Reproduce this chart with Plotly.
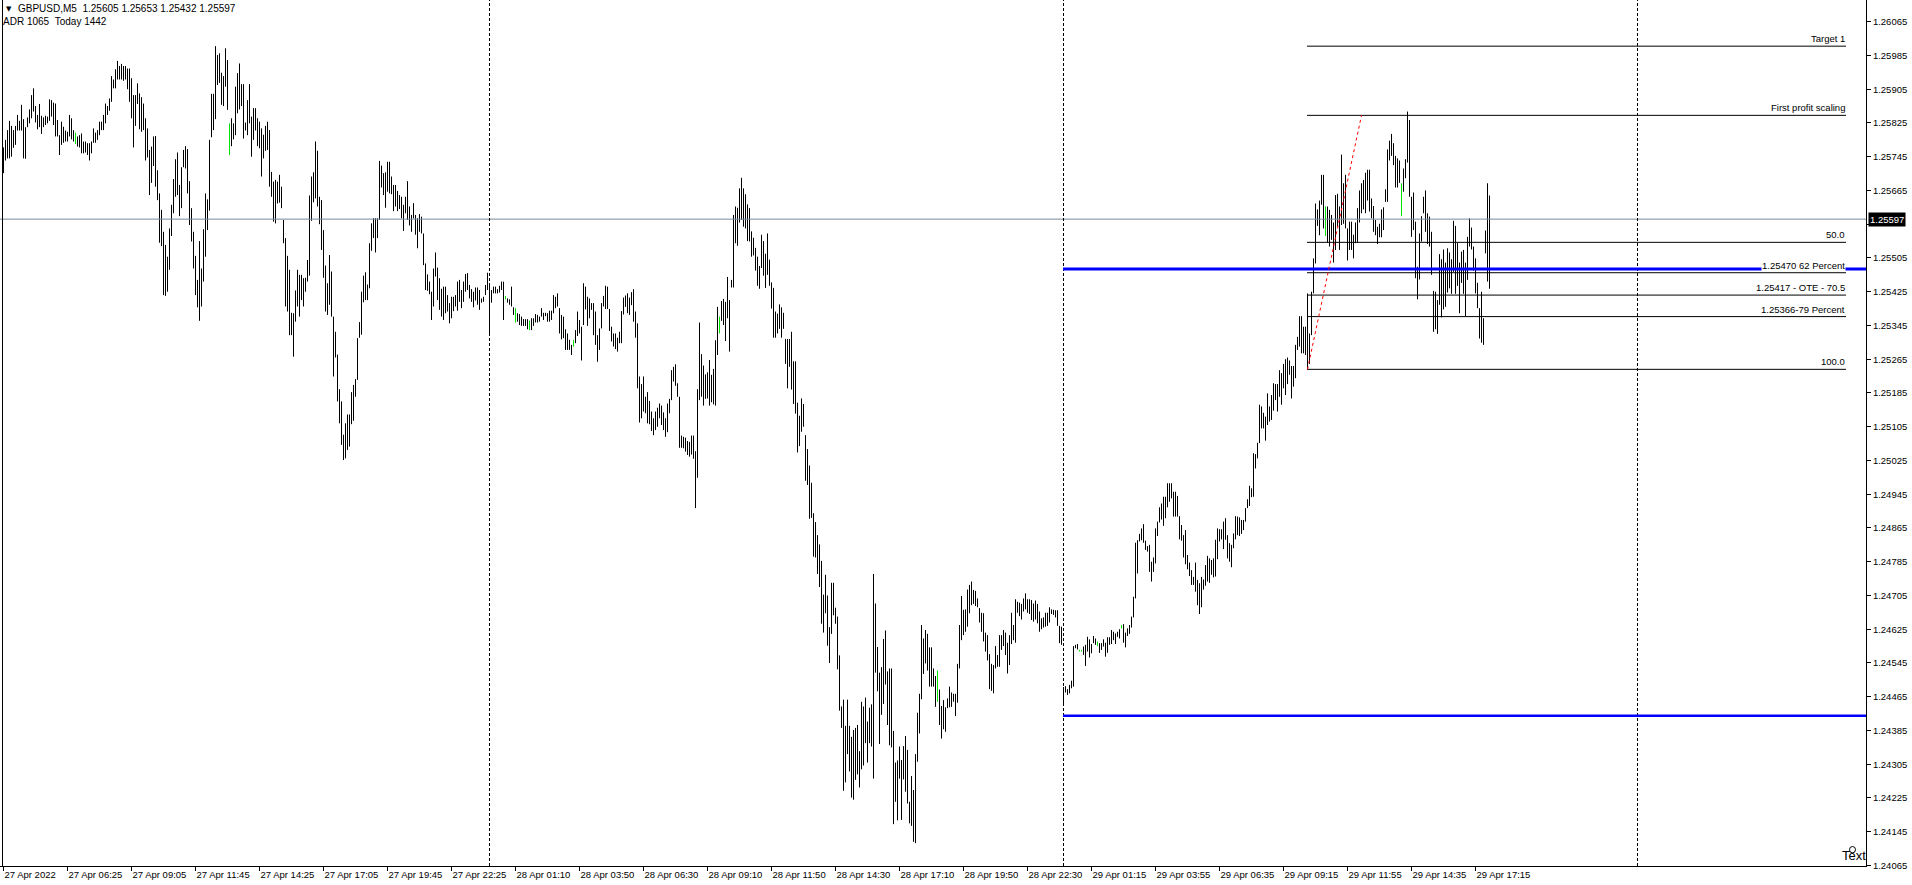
import plotly.graph_objects as go

# ---------------- data (GBPUSD M5) ----------------
bar_high = [
1.25767,1.25785,1.25808,1.25830,1.25818,1.25808,1.25818,1.25844,1.25830,1.25868,
1.25834,1.25815,1.25838,1.25857,1.25891,1.25907,1.25865,1.25844,1.25870,1.25842,
1.25838,1.25842,1.25840,1.25881,1.25879,1.25873,1.25871,1.25832,1.25796,1.25828,
1.25816,1.25807,1.25804,1.25844,1.25836,1.25808,1.25802,1.25793,1.25796,1.25800,
1.25781,1.25781,1.25777,1.25777,1.25781,1.25812,1.25802,1.25808,1.25828,1.25828,
1.25844,1.25871,1.25865,1.25883,1.25936,1.25928,1.25952,1.25972,1.25960,1.25965,
1.25960,1.25960,1.25954,1.25954,1.25931,1.25891,1.25891,1.25919,1.25895,1.25886,
1.25871,1.25836,1.25812,1.25761,1.25769,1.25793,1.25794,1.25713,1.25658,1.25619,
1.25567,1.25536,1.25508,1.25575,1.25631,1.25692,1.25739,1.25755,1.25678,1.25720,
1.25761,1.25770,1.25763,1.25687,1.25623,1.25567,1.25510,1.25453,1.25545,1.25480,
1.25573,1.25658,1.25644,1.25785,1.25894,1.25894,1.26007,1.25986,1.25990,1.25944,
1.25936,1.26002,1.25974,1.25824,1.25836,1.25824,1.25911,1.25943,1.25966,1.25917,
1.25917,1.25826,1.25879,1.25917,1.25840,1.25860,1.25860,1.25836,1.25828,1.25812,
1.25797,1.25818,1.25828,1.25808,1.25709,1.25686,1.25690,1.25686,1.25702,1.25674,
1.25595,1.25552,1.25510,1.25477,1.25375,1.25374,1.25428,1.25477,1.25465,1.25465,
1.25457,1.25458,1.25500,1.25653,1.25698,1.25708,1.25781,1.25759,1.25650,1.25642,
1.25571,1.25487,1.25445,1.25512,1.25473,1.25366,1.25330,1.25276,1.25194,1.25165,
1.25086,1.25113,1.25134,1.25134,1.25187,1.25204,1.25218,1.25315,1.25353,1.25425,
1.25463,1.25471,1.25442,1.25540,1.25587,1.25599,1.25599,1.25599,1.25735,1.25724,
1.25706,1.25708,1.25733,1.25733,1.25698,1.25678,1.25678,1.25664,1.25654,1.25650,
1.25631,1.25650,1.25687,1.25627,1.25607,1.25635,1.25607,1.25599,1.25609,1.25603,
1.25563,1.25492,1.25466,1.25449,1.25425,1.25480,1.25518,1.25482,1.25457,1.25432,
1.25437,1.25437,1.25417,1.25398,1.25413,1.25413,1.25417,1.25449,1.25453,1.25429,
1.25449,1.25467,1.25469,1.25441,1.25431,1.25425,1.25435,1.25435,1.25429,1.25409,
1.25413,1.25441,1.25470,1.25439,1.25429,1.25437,1.25437,1.25431,1.25439,1.25449,
1.25449,1.25415,1.25409,1.25407,1.25437,1.25388,1.25386,1.25374,1.25372,1.25366,
1.25360,1.25360,1.25360,1.25356,1.25362,1.25362,1.25372,1.25370,1.25366,1.25386,
1.25375,1.25375,1.25374,1.25380,1.25380,1.25417,1.25413,1.25421,1.25386,1.25370,
1.25366,1.25336,1.25326,1.25311,1.25299,1.25311,1.25334,1.25378,1.25358,1.25342,
1.25445,1.25437,1.25413,1.25409,1.25398,1.25398,1.25378,1.25322,1.25338,1.25398,
1.25415,1.25439,1.25437,1.25384,1.25342,1.25326,1.25326,1.25316,1.25330,1.25379,
1.25411,1.25416,1.25421,1.25411,1.25424,1.25431,1.25378,1.25350,1.25224,1.25206,
1.25224,1.25176,1.25187,1.25166,1.25141,1.25125,1.25141,1.25150,1.25160,1.25155,
1.25139,1.25125,1.25160,1.25171,1.25239,1.25247,1.25253,1.25208,1.25176,1.25084,
1.25081,1.25079,1.25071,1.25069,1.25084,1.25084,1.25047,1.25194,1.25352,1.25277,
1.25250,1.25229,1.25234,1.25263,1.25228,1.25242,1.25310,1.25389,1.25366,1.25403,
1.25408,1.25401,1.25460,1.25405,1.25453,1.25607,1.25627,1.25624,1.25670,1.25695,
1.25670,1.25656,1.25632,1.25623,1.25568,1.25553,1.25529,1.25508,1.25486,1.25560,
1.25545,1.25515,1.25563,1.25501,1.25447,1.25434,1.25378,1.25373,1.25395,1.25388,
1.25375,1.25313,1.25313,1.25313,1.25330,1.25260,1.25260,1.25162,1.25131,1.25172,
1.25159,1.25085,1.25052,1.25013,1.24972,1.24900,1.24879,1.24848,1.24826,1.24787,
1.24707,1.24754,1.24705,1.24630,1.24735,1.24735,1.24676,1.24655,1.24563,1.24442,
1.24458,1.24396,1.24458,1.24396,1.24370,1.24386,1.24391,1.24398,1.24336,1.24453,
1.24442,1.24463,1.24406,1.24439,1.24447,1.24756,1.24686,1.24583,1.24522,1.24535,
1.24602,1.24622,1.24525,1.24532,1.24532,1.24384,1.24309,1.24314,1.24347,1.24315,
1.24348,1.24372,1.24339,1.24216,1.24277,1.24244,1.24329,1.24427,1.24472,1.24635,
1.24603,1.24623,1.24614,1.24582,1.24582,1.24532,1.24514,1.24527,1.24482,1.24443,
1.24457,1.24440,1.24461,1.24489,1.24475,1.24472,1.24472,1.24543,1.24635,1.24704,
1.24671,1.24672,1.24719,1.24730,1.24738,1.24718,1.24716,1.24698,1.24675,1.24664,
1.24663,1.24617,1.24611,1.24566,1.24543,1.24540,1.24585,1.24564,1.24611,1.24611,
1.24623,1.24617,1.24593,1.24611,1.24664,1.24635,1.24696,1.24690,1.24688,1.24685,
1.24698,1.24710,1.24696,1.24696,1.24694,1.24686,1.24693,1.24685,1.24667,1.24651,
1.24653,1.24664,1.24664,1.24677,1.24672,1.24671,1.24670,1.24670,1.24633,1.24631,
1.24488,1.24490,1.24483,1.24493,1.24503,1.24585,1.24588,1.24590,1.24576,1.24576,
1.24584,1.24588,1.24607,1.24601,1.24590,1.24609,1.24603,1.24596,1.24592,1.24592,
1.24601,1.24593,1.24606,1.24606,1.24623,1.24619,1.24615,1.24619,1.24625,1.24635,
1.24637,1.24617,1.24627,1.24635,1.24655,1.24702,1.24830,1.24836,1.24851,1.24864,
1.24874,1.24835,1.24822,1.24825,1.24785,1.24795,1.24864,1.24880,1.24914,1.24923,
1.24939,1.24939,1.24971,1.24971,1.24971,1.24951,1.24951,1.24941,1.24893,1.24872,
1.24848,1.24860,1.24801,1.24783,1.24765,1.24749,1.24783,1.24742,1.24734,1.24749,
1.24743,1.24777,1.24799,1.24793,1.24789,1.24793,1.24837,1.24864,1.24862,1.24862,
1.24880,1.24888,1.24848,1.24829,1.24825,1.24852,1.24893,1.24892,1.24890,1.24884,
1.24884,1.24912,1.24933,1.24965,1.24959,1.25042,1.25040,1.25067,1.25157,1.25153,
1.25138,1.25129,1.25184,1.25153,1.25180,1.25208,1.25206,1.25206,1.25239,1.25232,
1.25254,1.25265,1.25269,1.25262,1.25249,1.25249,1.25299,1.25318,1.25367,1.25367,
1.25342,1.25342,1.25421,1.25326,1.25425,1.25504,1.25634,1.25620,1.25641,1.25702,
1.25702,1.25627,1.25627,1.25619,1.25607,1.25589,1.25654,1.25657,1.25627,1.25750,
1.25682,1.25702,1.25575,1.25591,1.25591,1.25560,1.25589,1.25623,1.25665,1.25682,
1.25690,1.25707,1.25714,1.25714,1.25646,1.25628,1.25595,1.25579,1.25586,1.25620,
1.25625,1.25668,1.25762,1.25783,1.25799,1.25777,1.25747,1.25741,1.25736,1.25682,
1.25717,1.25739,1.25852,1.25832,1.25650,1.25660,1.25591,1.25484,1.25563,1.25604,
1.25650,1.25665,1.25611,1.25603,1.25567,1.25427,1.25425,1.25405,1.25514,1.25502,
1.25525,1.25494,1.25528,1.25518,1.25502,1.25593,1.25581,1.25541,1.25494,1.25520,
1.25524,1.25494,1.25555,1.25599,1.25577,1.25532,1.25504,1.25446,1.25386,1.25425,
1.25362,1.25570,1.25682,1.25653]

bar_low = [
1.25706,1.25736,1.25741,1.25741,1.25745,1.25766,1.25773,1.25807,1.25807,1.25807,
1.25741,1.25740,1.25815,1.25824,1.25836,1.25852,1.25826,1.25810,1.25815,1.25799,
1.25815,1.25820,1.25824,1.25830,1.25840,1.25820,1.25793,1.25793,1.25749,1.25773,
1.25778,1.25781,1.25781,1.25793,1.25786,1.25781,1.25775,1.25769,1.25767,1.25753,
1.25753,1.25755,1.25749,1.25736,1.25753,1.25778,1.25778,1.25785,1.25796,1.25808,
1.25808,1.25824,1.25844,1.25854,1.25875,1.25907,1.25907,1.25928,1.25928,1.25928,
1.25925,1.25928,1.25905,1.25875,1.25836,1.25767,1.25818,1.25870,1.25810,1.25804,
1.25808,1.25736,1.25743,1.25654,1.25683,1.25723,1.25674,1.25642,1.25541,1.25533,
1.25417,1.25415,1.25425,1.25477,1.25557,1.25611,1.25650,1.25654,1.25604,1.25623,
1.25720,1.25717,1.25658,1.25583,1.25544,1.25480,1.25417,1.25388,1.25356,1.25390,
1.25449,1.25508,1.25571,1.25617,1.25791,1.25808,1.25834,1.25915,1.25920,1.25868,
1.25865,1.25911,1.25856,1.25749,1.25770,1.25786,1.25796,1.25848,1.25857,1.25865,
1.25788,1.25807,1.25796,1.25824,1.25745,1.25785,1.25807,1.25770,1.25765,1.25698,
1.25741,1.25759,1.25761,1.25674,1.25650,1.25591,1.25587,1.25634,1.25636,1.25623,
1.25540,1.25390,1.25378,1.25322,1.25322,1.25271,1.25354,1.25390,1.25366,1.25405,
1.25390,1.25425,1.25449,1.25463,1.25593,1.25637,1.25646,1.25627,1.25585,1.25524,
1.25458,1.25378,1.25370,1.25394,1.25366,1.25224,1.25269,1.25165,1.25113,1.25062,
1.25026,1.25030,1.25050,1.25058,1.25111,1.25119,1.25176,1.25216,1.25316,1.25323,
1.25400,1.25405,1.25405,1.25433,1.25522,1.25552,1.25518,1.25552,1.25595,1.25672,
1.25654,1.25624,1.25662,1.25658,1.25656,1.25616,1.25627,1.25616,1.25621,1.25599,
1.25569,1.25611,1.25595,1.25582,1.25567,1.25599,1.25560,1.25528,1.25567,1.25563,
1.25488,1.25429,1.25427,1.25419,1.25358,1.25390,1.25461,1.25405,1.25382,1.25366,
1.25358,1.25374,1.25378,1.25350,1.25362,1.25379,1.25390,1.25380,1.25401,1.25386,
1.25401,1.25425,1.25429,1.25409,1.25401,1.25388,1.25404,1.25394,1.25382,1.25399,
1.25401,1.25417,1.25429,1.25322,1.25399,1.25421,1.25421,1.25421,1.25423,1.25429,
1.25358,1.25407,1.25399,1.25394,1.25390,1.25370,1.25352,1.25354,1.25346,1.25344,
1.25344,1.25344,1.25336,1.25334,1.25334,1.25344,1.25352,1.25352,1.25354,1.25366,
1.25358,1.25367,1.25354,1.25354,1.25358,1.25374,1.25386,1.25390,1.25326,1.25312,
1.25315,1.25287,1.25287,1.25287,1.25275,1.25295,1.25303,1.25320,1.25326,1.25262,
1.25346,1.25383,1.25344,1.25362,1.25382,1.25322,1.25299,1.25259,1.25287,1.25338,
1.25390,1.25384,1.25384,1.25332,1.25307,1.25295,1.25289,1.25283,1.25303,1.25303,
1.25371,1.25389,1.25374,1.25370,1.25393,1.25354,1.25316,1.25196,1.25115,1.25125,
1.25141,1.25137,1.25113,1.25111,1.25095,1.25085,1.25097,1.25105,1.25125,1.25109,
1.25097,1.25081,1.25092,1.25137,1.25168,1.25212,1.25202,1.25176,1.25055,1.25055,
1.25054,1.25046,1.25038,1.25034,1.25039,1.25029,1.24912,1.24984,1.25168,1.25176,
1.25155,1.25171,1.25172,1.25155,1.25163,1.25158,1.25155,1.25275,1.25326,1.25356,
1.25346,1.25308,1.25362,1.25283,1.25435,1.25435,1.25540,1.25534,1.25589,1.25595,
1.25579,1.25575,1.25545,1.25544,1.25508,1.25511,1.25475,1.25439,1.25432,1.25481,
1.25463,1.25434,1.25465,1.25439,1.25385,1.25316,1.25316,1.25326,1.25337,1.25316,
1.25337,1.25254,1.25196,1.25247,1.25193,1.25159,1.25136,1.25044,1.25059,1.25093,
1.25105,1.24977,1.24967,1.24887,1.24889,1.24797,1.24795,1.24756,1.24725,1.24638,
1.24617,1.24663,1.24586,1.24545,1.24614,1.24658,1.24638,1.24530,1.24432,1.24391,
1.24242,1.24262,1.24329,1.24288,1.24226,1.24221,1.24268,1.24281,1.24250,1.24293,
1.24302,1.24355,1.24309,1.24355,1.24347,1.24271,1.24522,1.24478,1.24353,1.24422,
1.24448,1.24494,1.24398,1.24350,1.24345,1.24163,1.24216,1.24172,1.24271,1.24173,
1.24269,1.24240,1.24212,1.24165,1.24159,1.24121,1.24118,1.24311,1.24378,1.24459,
1.24519,1.24544,1.24527,1.24489,1.24489,1.24489,1.24441,1.24453,1.24398,1.24366,
1.24388,1.24382,1.24438,1.24440,1.24441,1.24453,1.24419,1.24451,1.24532,1.24599,
1.24611,1.24619,1.24631,1.24663,1.24682,1.24685,1.24680,1.24677,1.24641,1.24619,
1.24596,1.24572,1.24551,1.24483,1.24479,1.24473,1.24532,1.24536,1.24536,1.24576,
1.24585,1.24564,1.24520,1.24540,1.24590,1.24599,1.24593,1.24664,1.24656,1.24648,
1.24667,1.24672,1.24664,1.24661,1.24647,1.24643,1.24648,1.24639,1.24619,1.24625,
1.24629,1.24631,1.24633,1.24641,1.24661,1.24659,1.24653,1.24633,1.24592,1.24588,
1.24450,1.24475,1.24469,1.24473,1.24485,1.24489,1.24580,1.24577,1.24572,1.24572,
1.24564,1.24538,1.24572,1.24558,1.24568,1.24592,1.24588,1.24585,1.24569,1.24576,
1.24584,1.24560,1.24569,1.24588,1.24590,1.24599,1.24590,1.24607,1.24603,1.24627,
1.24593,1.24582,1.24609,1.24614,1.24629,1.24653,1.24698,1.24757,1.24833,1.24836,
1.24830,1.24813,1.24809,1.24761,1.24738,1.24761,1.24781,1.24846,1.24878,1.24885,
1.24870,1.24888,1.24914,1.24927,1.24935,1.24892,1.24892,1.24892,1.24838,1.24835,
1.24795,1.24779,1.24767,1.24751,1.24730,1.24730,1.24714,1.24682,1.24661,1.24677,
1.24719,1.24728,1.24738,1.24735,1.24754,1.24748,1.24750,1.24791,1.24833,1.24838,
1.24815,1.24837,1.24793,1.24785,1.24772,1.24817,1.24838,1.24848,1.24846,1.24851,
1.24860,1.24880,1.24912,1.24917,1.24938,1.24939,1.25006,1.25030,1.25066,1.25101,
1.25101,1.25072,1.25109,1.25117,1.25121,1.25143,1.25168,1.25141,1.25176,1.25157,
1.25196,1.25180,1.25206,1.25228,1.25172,1.25200,1.25220,1.25287,1.25295,1.25279,
1.25279,1.25275,1.25241,1.25254,1.25322,1.25421,1.25492,1.25581,1.25559,1.25631,
1.25575,1.25557,1.25541,1.25532,1.25548,1.25494,1.25524,1.25579,1.25524,1.25583,
1.25586,1.25575,1.25499,1.25524,1.25524,1.25504,1.25540,1.25541,1.25589,1.25611,
1.25620,1.25611,1.25641,1.25615,1.25599,1.25567,1.25559,1.25538,1.25554,1.25554,
1.25571,1.25638,1.25638,1.25736,1.25747,1.25725,1.25672,1.25672,1.25683,1.25604,
1.25662,1.25694,1.25731,1.25650,1.25555,1.25571,1.25457,1.25407,1.25454,1.25544,
1.25611,1.25567,1.25538,1.25532,1.25465,1.25330,1.25336,1.25325,1.25394,1.25364,
1.25383,1.25389,1.25423,1.25433,1.25420,1.25472,1.25420,1.25439,1.25374,1.25446,
1.25420,1.25367,1.25453,1.25532,1.25525,1.25475,1.25421,1.25386,1.25314,1.25304,
1.25299,1.25516,1.25449,1.25432]

green_bars = [36, 113, 251, 256, 263, 285, 358, 467, 538, 539, 547, 559, 661, 699]

time_tick_bars = [0, 32, 64, 96, 128, 160, 192, 224, 256, 288, 320, 352,
                  384, 416, 448, 480, 512, 544, 576, 608, 640, 672, 704, 736]
time_tick_labels = ["27 Apr 2022", "27 Apr 06:25", "27 Apr 09:05", "27 Apr 11:45",
                    "27 Apr 14:25", "27 Apr 17:05", "27 Apr 19:45", "27 Apr 22:25",
                    "28 Apr 01:10", "28 Apr 03:50", "28 Apr 06:30", "28 Apr 09:10",
                    "28 Apr 11:50", "28 Apr 14:30", "28 Apr 17:10", "28 Apr 19:50",
                    "28 Apr 22:30", "29 Apr 01:15", "29 Apr 03:55", "29 Apr 06:35",
                    "29 Apr 09:15", "29 Apr 11:55", "29 Apr 14:35", "29 Apr 17:15"]

price_ticks = [1.24065, 1.24145, 1.24225, 1.24305, 1.24385, 1.24465, 1.24545,
               1.24625, 1.24705, 1.24785, 1.24865, 1.24945, 1.25025, 1.25105,
               1.25185, 1.25265, 1.25345, 1.25425, 1.25505, 1.25585, 1.25665,
               1.25745, 1.25825, 1.25905, 1.25985, 1.26065]
price_tick_labels = ["1.24065", "1.24145", "1.24225", "1.24305", "1.24385", "1.24465",
                     "1.24545", "1.24625", "1.24705", "1.24785", "1.24865", "1.24945",
                     "1.25025", "1.25105", "1.25185", "1.25265", "1.25345", "1.25425",
                     "1.25505", "", "1.25665", "1.25745", "1.25825", "1.25905",
                     "1.25985", "1.26065"]

day_separator_bars = [243, 530, 817]

fib_levels = [1.26007, 1.25843, 1.25542, 1.25470, 1.25417, 1.25366, 1.25241]
fib_labels = ["Target 1", "First profit scaling", "50.0", "1.25470 62 Percent",
              "1.25417 - OTE - 70.5", "1.25366-79 Percent", "100.0"]
fib_start_bar = 652
fib_trend_bars = [652, 679]
fib_trend_prices = [1.25241, 1.25843]

blue_levels = [1.25479, 1.24420]
blue_start_bar = 530

last_price = 1.25597
header_line1 = "GBPUSD,M5\u00a0\u00a01.25605 1.25653 1.25432 1.25597"
header_line2 = "ADR 1065\u00a0\u00a0Today 1442"

# ---------------- figure ----------------
FONT = "Liberation Sans, Arial, sans-serif"
X_RANGE = [-1.75, 931.25]
Y_RANGE = [1.240638, 1.261164]
FIB_END = 921.25

def segments(indices):
    xs, ys = [], []
    for i in indices:
        xs += [i, i, None]
        ys += [bar_low[i], bar_high[i], None]
    return xs, ys

n = len(bar_high)
green_set = set(green_bars)
bx, by = segments([i for i in range(n) if i not in green_set])
gx, gy = segments(green_bars)

fig = go.Figure()
fig.add_trace(go.Scatter(x=bx, y=by, mode="lines",
                         line=dict(color="#000000", width=1),
                         hoverinfo="skip", showlegend=False))
fig.add_trace(go.Scatter(x=gx, y=gy, mode="lines",
                         line=dict(color="#00e600", width=1),
                         hoverinfo="skip", showlegend=False))

shapes = []
shapes.append(dict(type="line", xref="paper", x0=0, x1=1, yref="y",
                   y0=last_price, y1=last_price,
                   line=dict(color="#778899", width=1)))
for b in day_separator_bars:
    shapes.append(dict(type="line", xref="x", x0=b, x1=b, yref="paper", y0=0, y1=1,
                       line=dict(color="#000000", width=1, dash="3px,2px")))
for lv, w in zip(blue_levels, [3, 2.5]):
    shapes.append(dict(type="line", xref="x", x0=blue_start_bar - 0.25, x1=X_RANGE[1],
                       yref="y", y0=lv, y1=lv,
                       line=dict(color="#0000ff", width=w)))
for lv in fib_levels:
    shapes.append(dict(type="line", xref="x", x0=fib_start_bar - 0.25, x1=FIB_END,
                       yref="y", y0=lv, y1=lv,
                       line=dict(color="#000000", width=1)))
shapes.append(dict(type="line", xref="x", x0=fib_trend_bars[0], x1=fib_trend_bars[1],
                   yref="y", y0=fib_trend_prices[0], y1=fib_trend_prices[1],
                   line=dict(color="#ff0000", width=1, dash="3px,3px")))
shapes.append(dict(type="line", xref="paper", x0=2.5 / 1866, x1=2.5 / 1866,
                   yref="paper", y0=0, y1=1, line=dict(color="#000000", width=1)))
shapes.append(dict(type="circle", xref="x", yref="y",
                   x0=923.0, x1=926.0, y0=1.24095, y1=1.24110,
                   line=dict(color="#000000", width=1)))

annotations = []
for lv, txt in zip(fib_levels, fib_labels):
    annotations.append(dict(x=FIB_END, y=lv, xref="x", yref="y", text=txt,
                            xanchor="right", yanchor="bottom", showarrow=False,
                            yshift=1, borderpad=0,
                            bgcolor="#ffffff" if "62 Percent" in txt else None,
                            font=dict(family=FONT, size=9.5, color="#000000")))
annotations.append(dict(x=1, y=last_price, xref="paper", yref="y",
                        text="%.5f" % last_price, xanchor="left", yanchor="middle",
                        xshift=2, showarrow=False, bgcolor="#000000", borderpad=1,
                        font=dict(family=FONT, size=9.5, color="#ffffff")))
annotations.append(dict(x=0, y=1, xref="paper", yref="paper", text="\u25bc",
                        xanchor="left", yanchor="top", xshift=4, yshift=-3,
                        showarrow=False, font=dict(family="DejaVu Sans", size=7, color="#000000")))
annotations.append(dict(x=0, y=1, xref="paper", yref="paper", text=header_line1,
                        xanchor="left", yanchor="top", xshift=16, yshift=-1,
                        showarrow=False, font=dict(family=FONT, size=10, color="#000000")))
annotations.append(dict(x=0, y=1, xref="paper", yref="paper", text=header_line2,
                        xanchor="left", yanchor="top", xshift=1, yshift=-14,
                        showarrow=False, font=dict(family=FONT, size=10, color="#000000")))
annotations.append(dict(x=918.3, y=Y_RANGE[0], xref="x", yref="y", text="Text",
                        xanchor="left", yanchor="bottom", yshift=1,
                        showarrow=False, font=dict(family=FONT, size=13, color="#000000")))

fig.update_layout(
    width=1912, height=885,
    margin=dict(l=0, r=46, t=0, b=19, autoexpand=False),
    paper_bgcolor="#ffffff", plot_bgcolor="#ffffff",
    showlegend=False,
    shapes=shapes, annotations=annotations,
    font=dict(family=FONT, size=9.5, color="#000000"),
    xaxis=dict(range=X_RANGE, showgrid=False, zeroline=False, showline=True,
               linecolor="#000000", linewidth=1, ticks="outside", ticklen=4,
               tickcolor="#000000", tickvals=time_tick_bars, ticktext=time_tick_labels,
               ticklabelposition="outside right", tickfont=dict(family=FONT, size=9.5),
               fixedrange=True),
    yaxis=dict(range=Y_RANGE, side="right", showgrid=False, zeroline=False,
               showline=True, linecolor="#000000", linewidth=1, ticks="outside",
               ticklen=4, tickcolor="#000000", tickmode="array", tickvals=price_ticks,
               ticktext=price_tick_labels, tickfont=dict(family=FONT, size=9.5),
               fixedrange=True),
)

fig.write_html("out.html", config={"displayModeBar": False},
               post_script="document.body.style.margin='0px';"
                           "document.body.style.overflow='hidden';")
